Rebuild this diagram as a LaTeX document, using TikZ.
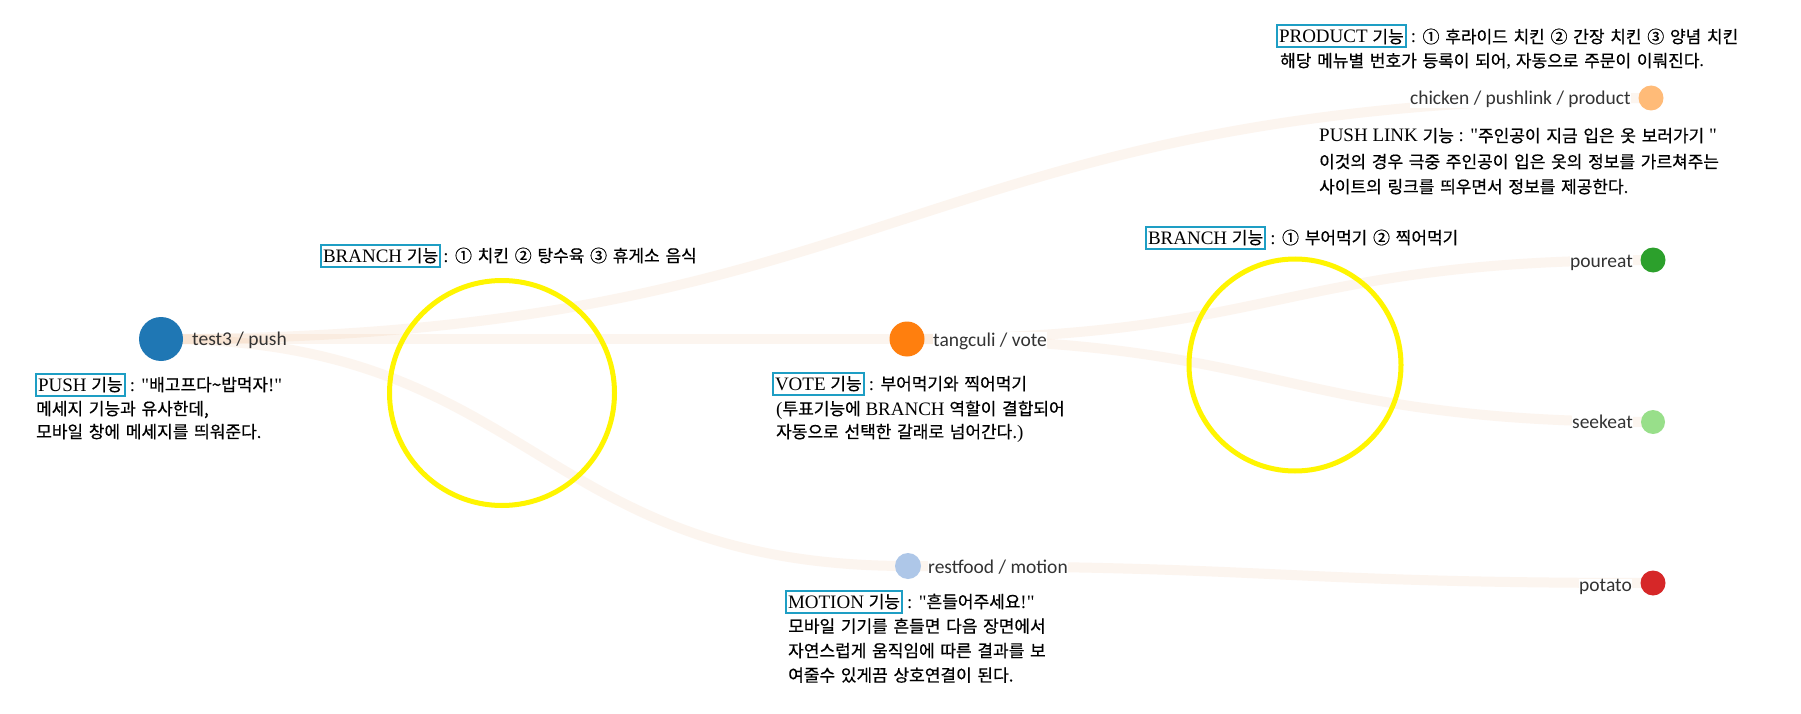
\documentclass[tikz,border=0pt]{standalone}
\usepackage{fontspec}
\setmainfont{Liberation Serif}
\newfontfamily\kr{Noto Sans CJK KR}[Scale=0.895, WordSpace=1.5, FakeBold=0.6]
\newfontfamily\lblfont{Carlito}
\usetikzlibrary{calc}
\pgfdeclarelayer{bglayer}
\pgfdeclarelayer{linklayer}
\pgfsetlayers{bglayer,linklayer,main}
\definecolor{boxcol}{RGB}{30,158,196}
\definecolor{linkcol}{RGB}{235,160,100}
\definecolor{cA}{RGB}{31,119,180}
\definecolor{cB}{RGB}{255,127,14}
\definecolor{cC}{RGB}{174,199,232}
\definecolor{cD}{RGB}{255,187,120}
\definecolor{cE}{RGB}{44,160,44}
\definecolor{cF}{RGB}{152,223,138}
\definecolor{cG}{RGB}{214,39,40}
\definecolor{ringcol}{RGB}{255,245,0}
\definecolor{lblcol}{RGB}{51,51,51}
\newcommand\dlink[2]{\draw[linkband] let \p1=(#1.center), \p2=(#2.center) in (\p1) .. controls ({0.5*\x1+0.5*\x2},\y1) and ({0.5*\x1+0.5*\x2},\y2) .. (\p2);}
\newcommand\qq{\textquotedbl}
\begin{document}
\begin{tikzpicture}[x=1pt,y=-1pt,
 dotnode/.style={circle, inner sep=0pt, minimum size=#1},
 linkband/.style={draw=linkcol, draw opacity=0.1, line width=10pt},
 ring/.style={circle, draw=ringcol, line width=5pt, inner sep=0pt, minimum size=#1},
 lbltext/.style={font=\lblfont\fontsize{19.5}{23}\selectfont, text=lblcol, inner sep=0pt},
 note/.style={font=\fontsize{19}{23}\selectfont, inner sep=0pt, anchor=base west},
 notebox/.style={draw=boxcol, line width=2pt, inner xsep=2pt, inner ysep=2.5pt, text height=15pt, text depth=2pt, anchor=base west, font=\fontsize{19}{23}\selectfont},
]
\begin{pgfonlayer}{bglayer}
\fill[white] (0,0) rectangle (1801,714);
\end{pgfonlayer}
\useasboundingbox (0,0) rectangle (1801,714);

% dots
\node[dotnode=44, fill=cA] (test3) at (161,339) {};
\node[dotnode=35, fill=cB] (tang) at (907,339) {};
\node[dotnode=26, fill=cC] (rest) at (908,566) {};
\node[dotnode=25, fill=cD] (chick) at (1651,98) {};
\node[dotnode=25, fill=cE] (pour) at (1653,260) {};
\node[dotnode=24, fill=cF] (seek) at (1653,422) {};
\node[dotnode=25, fill=cG] (pota) at (1653,583) {};

% labels
\node[lbltext, anchor=base west] (test3L) at (192,345) {test3 / push};
\node[lbltext, anchor=base west, fill=white] (tangL) at (933,346) {tangculi / vote};
\node[lbltext, anchor=base west, fill=white] (restL) at (928,573) {restfood / motion};
\node[lbltext, anchor=base east, fill=white] (chickL) at (1631,105) {chicken / pushlink / product};
\node[lbltext, anchor=base east, fill=white] (pourL) at (1633,267) {poureat};
\node[lbltext, anchor=base east, fill=white] (seekL) at (1633,428) {seekeat};
\node[lbltext, anchor=base east, fill=white] (potaL) at (1632,591) {potato};

% links
\begin{pgfonlayer}{linklayer}
\dlink{test3}{tang}
\dlink{test3}{chick}
\dlink{test3}{rest}
\dlink{tang}{pour}
\dlink{tang}{seek}
\dlink{rest}{pota}
\end{pgfonlayer}

% rings
\node[ring=225] (ring1) at (502,393) {};
\node[ring=212] (ring2) at (1295,365) {};

% PUSH
\node[notebox] (pushK) at (35,391) {PUSH {\kr 기능}};
\node[note, xshift=4pt] (push1) at (pushK.base east) {: \qq{\kr 배고프다\textasciitilde 밥먹자}!\qq};
\node[note] (push2) at (36,415) {\kr 메세지 기능과 유사한데,};
\node[note] (push3) at (36,438) {\kr 모바일 창에 메세지를 띄워준다.};

% BRANCH 1
\node[notebox] (brAK) at (320,262) {BRANCH {\kr 기능}};
\node[note, xshift=2pt] (brA) at (brAK.base east) {: {\kr ① 치킨 ② 탕수육 ③ 휴게소 음식}};

% VOTE
\node[notebox] (voteK) at (772,390) {VOTE {\kr 기능}};
\node[note, xshift=4pt] (vote1) at (voteK.base east) {: {\kr 부어먹기와 찍어먹기}};
\node[note] (vote2) at (776,415) {({\kr 투표기능에} BRANCH {\kr 역할이 결합되어}};
\node[note] (vote3) at (776,438) {{\kr 자동으로 선택한 갈래로 넘어간다.})};

% MOTION
\node[notebox] (motK) at (785,608) {MOTION {\kr 기능}};
\node[note, xshift=4pt] (mot1) at (motK.base east) {: \qq{\kr 흔들어주세요}!\qq};
\node[note] (mot2) at (788,632.5) {\kr 모바일 기기를 흔들면 다음 장면에서};
\node[note] (mot3) at (788,657) {\kr 자연스럽게 움직임에 따른 결과를 보};
\node[note] (mot4) at (788,681.5) {\kr 여줄수 있게끔 상호연결이 된다.};

% PRODUCT
\node[notebox] (prodK) at (1276,43) {PRODUCT {\kr 기능}};
\node[note, xshift=4pt] (prod1) at (prodK.base east) {: {\kr ① 후라이드 치킨 ② 간장 치킨 ③ 양념 치킨}};
\node[note] (prod2) at (1280,67) {{\kr 해당 메뉴별 번호가 등록이 되어}, {\kr 자동으로 주문이 이뤄진다}.};

% PUSH LINK
\node[note] (plA) at (1319,142) {PUSH LINK {\kr 기능} : \qq{\kr 주인공이 지금 입은 옷 보러가기} \qq};
\node[note] (plB) at (1319,168) {\kr 이것의 경우 극중 주인공이 입은 옷의 정보를 가르쳐주는};
\node[note] (plC) at (1319,193) {\kr 사이트의 링크를 띄우면서 정보를 제공한다.};

% BRANCH 2
\node[notebox] (brBK) at (1145,244) {BRANCH {\kr 기능}};
\node[note, xshift=4pt] (brB) at (brBK.base east) {: {\kr ① 부어먹기 ② 찍어먹기}};
\end{tikzpicture}
\end{document}
